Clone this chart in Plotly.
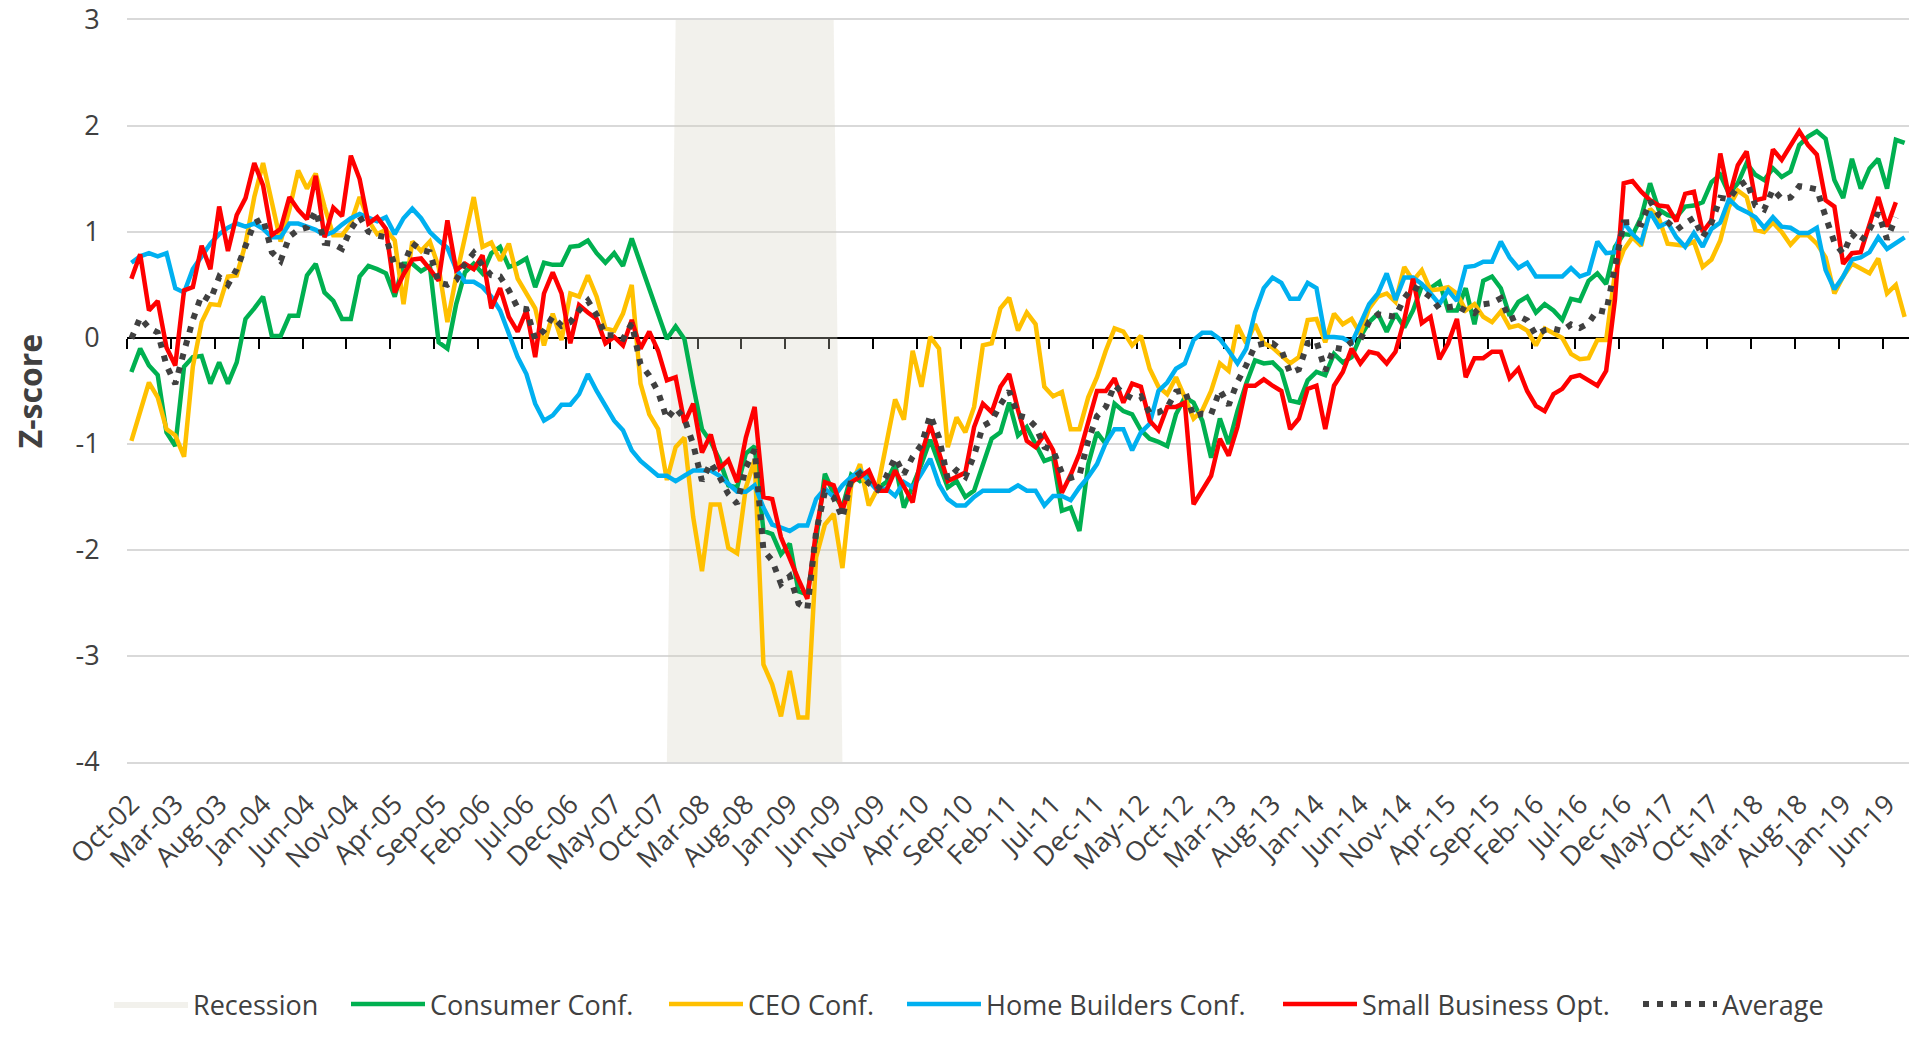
import numpy as np
import pandas as pd
import plotly.graph_objects as go

# ---------------- data ----------------
months = pd.date_range("2002-10-01", periods=203, freq="MS").strftime("%b-%y").tolist()

consumer_conf = [
    -0.32, -0.10, -0.26, -0.35, -0.89, -1.02, -0.27, -0.18, -0.17, -0.43,
    -0.23, -0.43, -0.23, 0.18, 0.28, 0.39, 0.02, 0.02, 0.21, 0.21,
    0.59, 0.70, 0.43, 0.35, 0.18, 0.18, 0.58, 0.68, 0.65, 0.61,
    0.39, 0.70, 0.70, 0.63, 0.68, -0.04, -0.10, 0.32, 0.62, 0.70,
    0.61, 0.80, 0.86, 0.67, 0.70, 0.75, 0.48, 0.71, 0.69, 0.69,
    0.86, 0.87, 0.92, 0.80, 0.71, 0.80, 0.68, 0.94, 0.70, 0.47,
    0.25, -0.01, 0.11, -0.01, -0.45, -0.86, -0.98, -1.15, -1.39, -1.41,
    -1.09, -1.02, -1.82, -1.85, -2.04, -1.94, -2.39, -2.42, -1.91, -1.28,
    -1.47, -1.60, -1.29, -1.35, -1.30, -1.42, -1.36, -1.19, -1.60, -1.40,
    -1.19, -0.96, -1.20, -1.41, -1.35, -1.50, -1.44, -1.19, -0.95, -0.89,
    -0.61, -0.92, -0.84, -1.00, -1.16, -1.13, -1.63, -1.60, -1.82, -1.19,
    -0.89, -1.00, -0.62, -0.69, -0.72, -0.87, -0.95, -0.98, -1.02, -0.72,
    -0.56, -0.61, -0.78, -1.13, -0.76, -1.00, -0.69, -0.43, -0.21, -0.24,
    -0.23, -0.31, -0.59, -0.61, -0.40, -0.32, -0.35, -0.15, -0.23, -0.18,
    0.01, 0.15, 0.23, 0.06, 0.23, 0.10, 0.26, 0.49, 0.47, 0.53,
    0.26, 0.26, 0.47, 0.13, 0.54, 0.58, 0.47, 0.21, 0.34, 0.39,
    0.24, 0.32, 0.26, 0.17, 0.37, 0.35, 0.54, 0.61, 0.51, 0.86,
    0.98, 0.97, 1.14, 1.46, 1.21, 1.16, 1.14, 1.24, 1.25, 1.28,
    1.47, 1.54, 1.36, 1.46, 1.65, 1.54, 1.49, 1.60, 1.52, 1.57,
    1.82, 1.90, 1.95, 1.88, 1.49, 1.32, 1.69, 1.41, 1.60, 1.69,
    1.41, 1.87, 1.84,
]

ceo_conf = [
    -0.97, -0.69, -0.42, -0.56, -0.86, -0.92, -1.12, -0.27, 0.15, 0.32,
    0.31, 0.58, 0.59, 0.89, 1.33, 1.65, 1.30, 0.91, 1.21, 1.58,
    1.41, 1.55, 1.24, 0.97, 0.97, 1.08, 1.33, 1.11, 0.98, 1.02,
    0.92, 0.32, 0.91, 0.82, 0.91, 0.67, 0.15, 0.58, 0.95, 1.33,
    0.86, 0.90, 0.73, 0.89, 0.56, 0.42, 0.28, -0.07, 0.23, -0.02,
    0.42, 0.39, 0.59, 0.39, 0.09, 0.07, 0.23, 0.50, -0.43, -0.72,
    -0.86, -1.34, -1.03, -0.94, -1.69, -2.20, -1.57, -1.57, -1.98, -2.03,
    -1.41, -1.15, -3.08, -3.27, -3.57, -3.14, -3.58, -3.58, -2.07, -1.76,
    -1.66, -2.17, -1.39, -1.19, -1.58, -1.42, -1.00, -0.58, -0.77, -0.12,
    -0.46, 0.01, -0.10, -1.03, -0.75, -0.89, -0.65, -0.07, -0.05, 0.28,
    0.38, 0.07, 0.24, 0.13, -0.46, -0.55, -0.51, -0.86, -0.86, -0.56,
    -0.37, -0.12, 0.09, 0.06, -0.07, 0.02, -0.29, -0.46, -0.53, -0.37,
    -0.56, -0.76, -0.68, -0.50, -0.24, -0.31, 0.12, -0.05, 0.13, -0.05,
    -0.09, -0.16, -0.24, -0.18, 0.17, 0.18, -0.04, 0.23, 0.13, 0.18,
    0.04, 0.28, 0.39, 0.42, 0.34, 0.67, 0.54, 0.64, 0.45, 0.46,
    0.48, 0.42, 0.26, 0.32, 0.20, 0.15, 0.25, 0.10, 0.12, 0.07,
    -0.07, 0.09, 0.04, 0.00, -0.15, -0.20, -0.19, -0.02, -0.02, 0.61,
    0.83, 0.95, 0.87, 1.22, 1.13, 0.89, 0.88, 0.87, 0.91, 0.67,
    0.74, 0.92, 1.24, 1.39, 1.33, 1.02, 1.00, 1.09, 1.00, 0.88,
    0.97, 0.97, 0.89, 0.76, 0.42, 0.58, 0.70, 0.65, 0.61, 0.75,
    0.42, 0.50, 0.20,
]

home_builders_conf = [
    0.71, 0.77, 0.80, 0.77, 0.80, 0.47, 0.43, 0.65, 0.77, 0.89,
    0.98, 1.04, 1.08, 1.05, 1.08, 1.03, 0.95, 0.95, 1.08, 1.08,
    1.05, 1.02, 0.97, 1.00, 1.07, 1.13, 1.17, 1.14, 1.10, 1.14,
    0.98, 1.13, 1.22, 1.13, 1.00, 0.92, 0.85, 0.65, 0.53, 0.53,
    0.48, 0.39, 0.26, 0.04, -0.18, -0.34, -0.62, -0.78, -0.73, -0.63,
    -0.63, -0.53, -0.34, -0.50, -0.64, -0.78, -0.87, -1.06, -1.16, -1.23,
    -1.30, -1.30, -1.35, -1.30, -1.25, -1.25, -1.25, -1.30, -1.37, -1.45,
    -1.45, -1.39, -1.60, -1.76, -1.79, -1.82, -1.77, -1.77, -1.52, -1.42,
    -1.50, -1.39, -1.31, -1.25, -1.35, -1.44, -1.42, -1.49, -1.36, -1.41,
    -1.28, -1.14, -1.38, -1.52, -1.58, -1.58, -1.50, -1.44, -1.44, -1.44,
    -1.44, -1.39, -1.44, -1.44, -1.58, -1.49, -1.49, -1.53, -1.41, -1.31,
    -1.19, -0.99, -0.86, -0.86, -1.06, -0.89, -0.81, -0.50, -0.42, -0.29,
    -0.24, -0.02, 0.05, 0.05, -0.01, -0.12, -0.24, -0.10, 0.24, 0.47,
    0.57, 0.52, 0.37, 0.37, 0.52, 0.47, 0.01, 0.01, 0.00, -0.05,
    0.13, 0.32, 0.42, 0.61, 0.36, 0.57, 0.57, 0.51, 0.42, 0.32,
    0.45, 0.35, 0.67, 0.68, 0.72, 0.72, 0.91, 0.76, 0.66, 0.71,
    0.58, 0.58, 0.58, 0.58, 0.66, 0.58, 0.61, 0.91, 0.80, 0.81,
    1.09, 0.98, 0.90, 1.19, 1.05, 1.09, 0.95, 0.86, 0.99, 0.86,
    1.03, 1.09, 1.31, 1.23, 1.19, 1.14, 1.04, 1.14, 1.05, 1.04,
    0.99, 0.99, 1.04, 0.64, 0.46, 0.58, 0.74, 0.76, 0.81, 0.95,
    0.84, 0.90, 0.95,
]

small_business_opt = [
    0.56, 0.79, 0.26, 0.35, -0.09, -0.26, 0.45, 0.48, 0.87, 0.65,
    1.24, 0.82, 1.16, 1.32, 1.65, 1.44, 0.97, 1.03, 1.33, 1.21,
    1.12, 1.53, 0.95, 1.23, 1.15, 1.72, 1.50, 1.08, 1.14, 1.03,
    0.43, 0.60, 0.74, 0.75, 0.65, 0.54, 1.11, 0.64, 0.70, 0.65,
    0.78, 0.28, 0.47, 0.20, 0.06, 0.26, -0.18, 0.42, 0.62, 0.42,
    -0.05, 0.31, 0.24, 0.18, -0.05, 0.01, -0.07, 0.17, -0.10, 0.06,
    -0.12, -0.40, -0.37, -0.80, -0.62, -1.08, -0.91, -1.23, -1.15, -1.36,
    -0.94, -0.65, -1.50, -1.52, -1.88, -2.09, -2.28, -2.46, -1.82, -1.36,
    -1.39, -1.63, -1.36, -1.31, -1.25, -1.44, -1.44, -1.25, -1.41, -1.55,
    -1.10, -0.82, -1.08, -1.35, -1.31, -1.27, -0.84, -0.62, -0.70, -0.46,
    -0.34, -0.68, -0.97, -1.03, -0.91, -1.06, -1.46, -1.29, -1.09, -0.81,
    -0.50, -0.50, -0.38, -0.61, -0.43, -0.46, -0.78, -0.87, -0.65, -0.65,
    -0.61, -1.57, -1.44, -1.30, -0.95, -1.11, -0.84, -0.45, -0.45, -0.39,
    -0.45, -0.50, -0.86, -0.76, -0.48, -0.45, -0.86, -0.45, -0.32, -0.10,
    -0.24, -0.13, -0.15, -0.24, -0.13, 0.17, 0.56, 0.14, 0.20, -0.20,
    -0.05, 0.18, -0.37, -0.19, -0.19, -0.13, -0.13, -0.38, -0.29, -0.50,
    -0.64, -0.69, -0.53, -0.48, -0.37, -0.35, -0.40, -0.45, -0.31, 0.36,
    1.46, 1.48, 1.38, 1.30, 1.25, 1.24, 1.10, 1.36, 1.38, 1.00,
    1.11, 1.74, 1.33, 1.63, 1.76, 1.30, 1.32, 1.78, 1.68, 1.81,
    1.95, 1.82, 1.73, 1.30, 1.24, 0.70, 0.80, 0.81, 1.08, 1.33,
    1.05, 1.28, None,
]

recession_start = "Dec-07"
recession_end = "Jun-09"

y_min, y_max = -4, 3
label_every = 5

# Average of the four indicators (undefined where a series is missing)
stack = np.array([consumer_conf, ceo_conf, home_builders_conf, small_business_opt], dtype=float)
average = stack.mean(axis=0)

x_idx = list(range(len(months)))
rs, re_ = months.index(recession_start), months.index(recession_end)
recession_y = [y_max if rs <= i <= re_ else y_min for i in x_idx]

FONT = "Open Sans, sans-serif"
TXT = "#404040"
FS = 27

# figure sits inside the page's default 8px body margin
W, H = 1901, 1021
ML, MR, MT, MB = 119, 0, 12, 267
PW = W - ML - MR
PH = H - MT - MB


def px_to_paper_x(px):
    return (px - ML) / PW


legend_y = -MB / PH            # legend row sits on the bottom edge of the figure
legend_starts = [101, 338, 656, 894, 1270, 1630]

fig = go.Figure()

fig.add_trace(go.Scatter(
    x=x_idx, y=recession_y, name="Recession", mode="lines",
    line=dict(width=0, color="rgba(0,0,0,0)"),
    fill="toself", fillcolor="rgba(212,208,192,0.30)", hoverinfo="skip",
    legend="legend",
))

series = [
    ("Consumer Conf.", consumer_conf, "#00B050"),
    ("CEO Conf.", ceo_conf, "#FFC000"),
    ("Home Builders Conf.", home_builders_conf, "#00B0F0"),
    ("Small Business Opt.", small_business_opt, "#FF0000"),
]
for k, (name, vals, col) in enumerate(series):
    fig.add_trace(go.Scatter(
        x=x_idx, y=vals, name=name, mode="lines", xaxis="x2",
        line=dict(color=col, width=4.5),
        legend=f"legend{k + 2}",
    ))

fig.add_trace(go.Scatter(
    x=x_idx, y=average, name="Average", mode="lines", xaxis="x2",
    line=dict(color="#404040", width=6, dash="6px,8px"),
    legend="legend6",
))

x_range = [-0.5, len(months) - 0.5]
label_pos = list(range(0, len(months), label_every))
boundary_pos = [p - 0.5 for p in label_pos]

legend_common = dict(
    orientation="h", xanchor="left", yanchor="bottom", y=legend_y,
    font=dict(family=FONT, size=FS, color=TXT), itemwidth=74,
    bgcolor="rgba(0,0,0,0)", borderwidth=0,
)
legends = {}
for k, sx in enumerate(legend_starts):
    key = "legend" if k == 0 else f"legend{k + 1}"
    legends[key] = dict(legend_common, x=px_to_paper_x(sx))

fig.update_layout(
    width=W, height=H,
    font=dict(family=FONT, color=TXT, size=FS),
    paper_bgcolor="white",
    plot_bgcolor="white",
    margin=dict(l=ML, r=MR, t=MT, b=MB, autoexpand=False),
    showlegend=True,
    xaxis=dict(
        range=x_range, tickmode="array", tickvals=label_pos,
        ticktext=[months[p] for p in label_pos], tickangle=-45,
        showgrid=False, zeroline=False, automargin=False,
        showline=True, linecolor="#D9D9D9", linewidth=1.5, mirror=True,
        ticks="outside", ticklen=14, tickcolor="rgba(0,0,0,0)",
        tickfont=dict(family=FONT, size=FS, color=TXT),
        ticklabeloverflow="allow",
    ),
    xaxis2=dict(
        overlaying="x", anchor="free", position=(0 - y_min) / (y_max - y_min),
        side="bottom", automargin=False,
        range=x_range, tickmode="array", tickvals=boundary_pos,
        showticklabels=False, showgrid=False, zeroline=False,
        showline=True, linecolor="black", linewidth=2,
        ticks="outside", ticklen=10, tickwidth=2, tickcolor="black",
        layer="below traces",
    ),
    yaxis=dict(
        range=[y_min, y_max], tickmode="array", tickvals=list(range(y_min, y_max + 1)),
        ticktext=[str(v) for v in range(y_min, y_max + 1)],
        showgrid=True, gridcolor="#D9D9D9", gridwidth=1.5,
        zeroline=False, showline=False, automargin=False,
        ticks="outside", ticklen=21, tickcolor="rgba(0,0,0,0)",
        tickfont=dict(family=FONT, size=FS, color=TXT),
        ticklabeloverflow="allow",
        title=dict(text="<b>Z-score</b>", font=dict(family=FONT, size=32, color=TXT), standoff=32),
    ),
    **legends,
)

fig.write_html("out.html")
